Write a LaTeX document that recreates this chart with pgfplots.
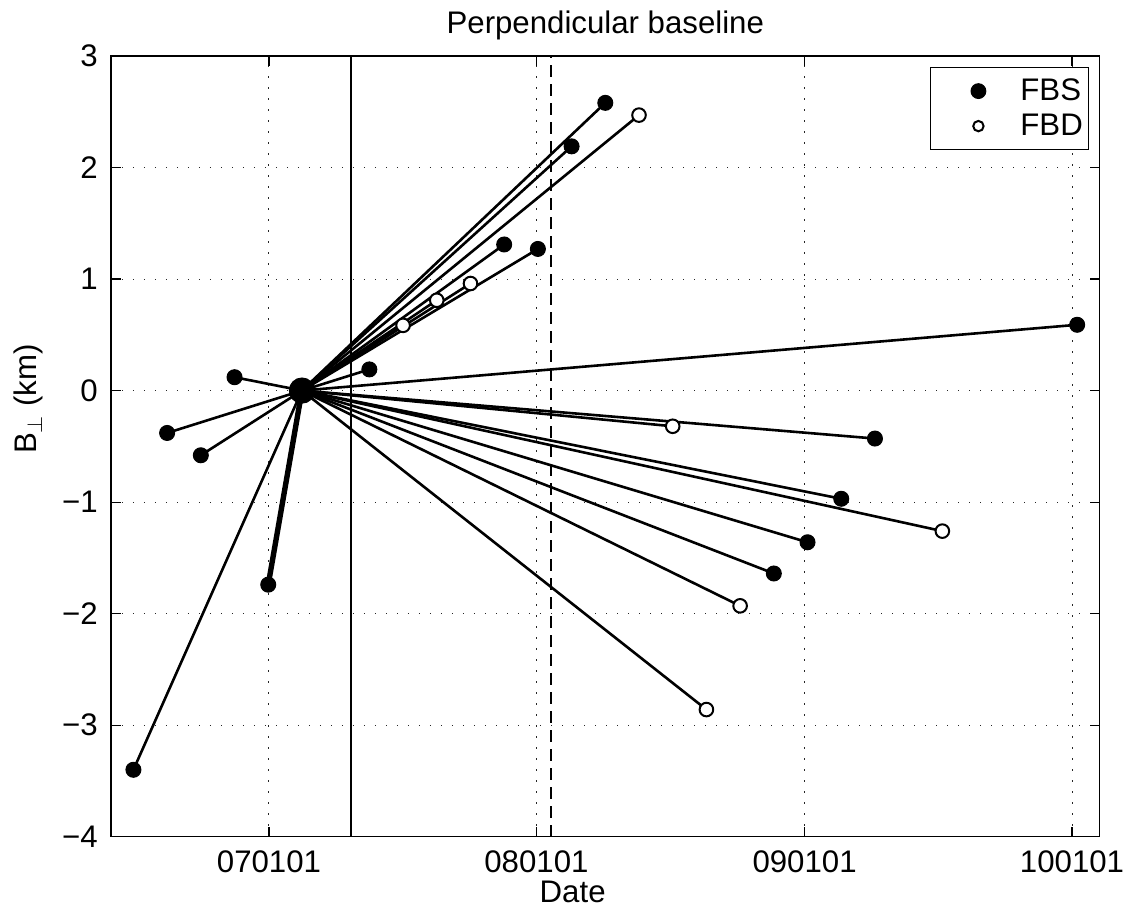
\documentclass[border=0pt]{standalone}
\usepackage{fontspec}
\setmainfont{Liberation Sans}
\usepackage{pgfplots}
\usepackage{pgfplotstable}
\pgfplotsset{compat=1.18}

% x: days since 2007-01-01, y: perpendicular baseline (km)
% master acquisition at day 45, B = 0
\pgfplotstableread{
d b
-185 -3.40
-139 -0.38
-93 -0.58
-47 0.12
-1 -1.74
137 0.19
321 1.31
367 1.27
413 2.19
459 2.58
689 -1.64
735 -1.36
781 -0.97
827 -0.43
1103 0.59
}\fbs

\pgfplotstableread{
d b
183 0.585
229 0.81
275 0.96
505 2.47
551 -0.32
597 -2.86
643 -1.93
919 -1.26
}\fbd

\begin{document}
\fontsize{15.6}{18.5}\selectfont
\begin{tikzpicture}
\begin{axis}[
  scale only axis, width=494.3pt, height=390.35pt,
  xmin=-215.6, xmax=1133.6, ymin=-4, ymax=3,
  xtick={0,365,731,1096}, xticklabels={070101,080101,090101,100101},
  ytick={-4,-3,-2,-1,0,1,2,3}, yticklabels={−4,−3,−2,−1,0,1,2,3},
  tick align=inside, tick pos=both, major tick length=5pt, minor tick num=0,
  axis line style={line width=0.7pt},
  every tick/.style={black, line width=0.6pt},
  grid=major,
  grid style={black!85, line width=0.5pt, dash pattern=on 0.7pt off 4.8pt},
  xticklabel style={anchor=base, yshift=-18.1pt},
  yticklabel style={xshift=-1.2pt},
  title={Perpendicular baseline},
  title style={at={(axis description cs:0.5,1)}, anchor=base, yshift=5.5pt},
  xlabel={Date},
  xlabel style={at={(axis description cs:0.467,0)}, anchor=base, yshift=-33pt},
  ylabel={B$_{\perp}$ (km)},
  ylabel style={at={(axis description cs:-0.0749,0.5607)}, anchor=base},
  legend style={at={(axis description cs:0.9893,0.9859)}, anchor=north east,
    draw=black, line width=0.6pt, inner xsep=0.8pt, inner ysep=3pt,
    cells={anchor=west},
    nodes={inner sep=2pt, text height=11.2pt, text depth=2.3pt}},
  legend image code/.code={\path (-22.7pt,0pt) (18.5pt,0pt);
    \draw[#1,/tikz/only marks] plot coordinates {(0pt,0pt)};},
  seg/.style={black, line width=1.3pt, no marks},
]
\addlegendimage{black, mark=*, mark size=3.7pt, line width=0.5pt, mark options={fill=black}}
\addlegendentry{FBS}
\addlegendimage{black, mark=*, mark size=2.6pt, line width=1pt, mark options={fill=white}}
\addlegendentry{FBD}

% reference lines
\addplot[black, line width=1.2pt] coordinates {(112,-4) (112,3)};
\addplot[black, line width=1.4pt, dash pattern=on 6pt off 3.5pt] coordinates {(385,-4) (385,3)};

% baselines from master to each slave
\addplot[seg] coordinates {(45,0) (-185,-3.40)};
\addplot[seg] coordinates {(45,0) (-139,-0.38)};
\addplot[seg] coordinates {(45,0) (-93,-0.58)};
\addplot[seg] coordinates {(45,0) (-47,0.12)};
\addplot[seg, line width=2.7pt] coordinates {(45,0) (-1,-1.74)};
\addplot[seg] coordinates {(45,0) (137,0.19)};
\addplot[seg] coordinates {(45,0) (183,0.585)};
\addplot[seg] coordinates {(45,0) (229,0.81)};
\addplot[seg] coordinates {(45,0) (275,0.96)};
\addplot[seg] coordinates {(45,0) (321,1.31)};
\addplot[seg] coordinates {(45,0) (367,1.27)};
\addplot[seg] coordinates {(45,0) (413,2.19)};
\addplot[seg] coordinates {(45,0) (459,2.58)};
\addplot[seg] coordinates {(45,0) (505,2.47)};
\addplot[seg] coordinates {(45,0) (551,-0.32)};
\addplot[seg] coordinates {(45,0) (597,-2.86)};
\addplot[seg] coordinates {(45,0) (643,-1.93)};
\addplot[seg] coordinates {(45,0) (689,-1.64)};
\addplot[seg] coordinates {(45,0) (735,-1.36)};
\addplot[seg] coordinates {(45,0) (781,-0.97)};
\addplot[seg] coordinates {(45,0) (827,-0.43)};
\addplot[seg] coordinates {(45,0) (919,-1.26)};
\addplot[seg] coordinates {(45,0) (1103,0.59)};

% acquisitions
\addplot[only marks, black, mark=*, mark size=3.75pt, line width=0.5pt, mark options={fill=black}] table[x=d, y=b] {\fbs};
\addplot[only marks, black, mark=*, mark size=3.4pt, line width=1pt, mark options={fill=white}] table[x=d, y=b] {\fbd};
\addplot[only marks, black, mark=*, mark size=6.3pt, line width=0.5pt, mark options={fill=black}] coordinates {(45,0)};
\end{axis}
\pgfresetboundingbox
\path (-55.5pt,-36.65pt) rectangle (507.5pt,418.35pt);
\end{tikzpicture}
\end{document}
